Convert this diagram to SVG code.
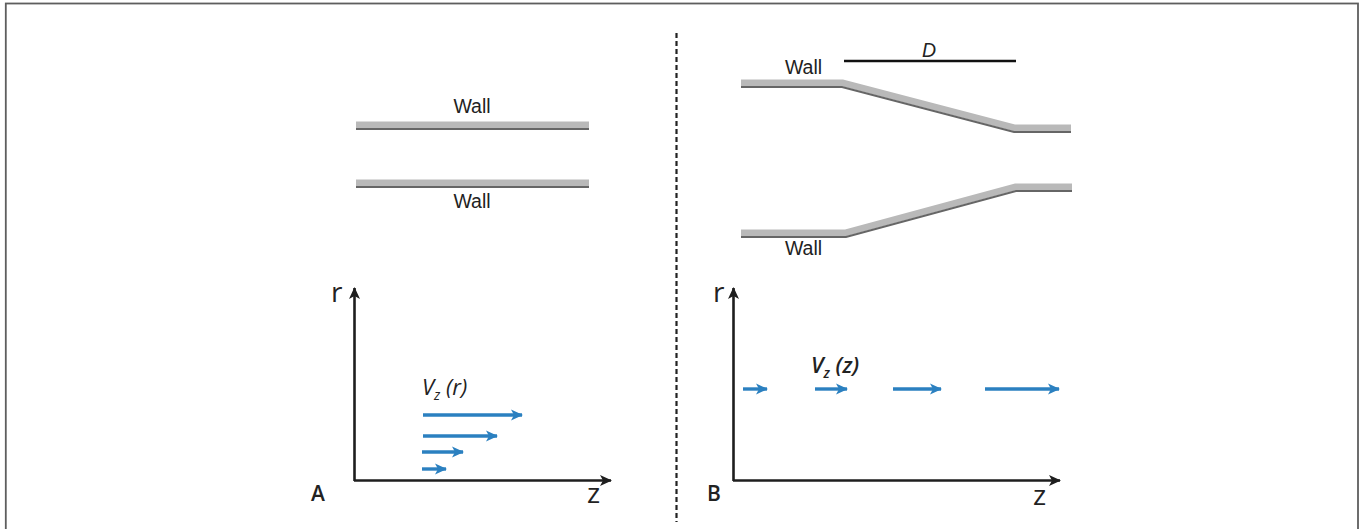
<svg xmlns="http://www.w3.org/2000/svg" width="1363" height="529" viewBox="0 0 1363 529">
<style>
.lbl{font-family:"Liberation Sans",Arial,sans-serif;font-size:19.5px;fill:#222}
.ax{font-family:"Open Sans","Liberation Sans",sans-serif;font-size:28px;fill:#222}
.pan{font-family:"Open Sans","Liberation Sans",sans-serif;font-size:21px;font-weight:600;fill:#222}
.vz{font-family:"Open Sans","Liberation Sans",sans-serif;font-size:22px;font-style:italic;fill:#222}
.wall{fill:#b9b9b9;stroke:none}
.edge{fill:none;stroke:#666;stroke-width:2}
.axis{fill:none;stroke:#1e1e1e;stroke-width:2.6}
.flow{fill:none;stroke:#2b80c0;stroke-width:3.4}
</style>
<defs>
<marker id="ah" markerWidth="14" markerHeight="14" refX="11" refY="7" orient="auto" markerUnits="userSpaceOnUse">
<path d="M0,1.5 L12,7 L0,12.5 L3,7 Z" fill="#1e1e1e"/>
</marker>
<marker id="bh" markerWidth="14" markerHeight="14" refX="11" refY="7" orient="auto" markerUnits="userSpaceOnUse">
<path d="M0,1.5 L12,7 L0,12.5 L3,7 Z" fill="#2b80c0"/>
</marker>
</defs>
<rect x="5.8" y="3.5" width="1352.2" height="540" fill="none" stroke="#5e5e5e" stroke-width="1.8"/>
<line x1="676.5" y1="33" x2="676.5" y2="522" stroke="#222" stroke-width="2.2" stroke-dasharray="5,3"/>

<g id="panelA-walls">
<rect class="wall" x="356" y="121.5" width="233" height="7"/>
<line class="edge" x1="356" y1="129" x2="589" y2="129"/>
<rect class="wall" x="356" y="179.5" width="233" height="7"/>
<line class="edge" x1="356" y1="187" x2="589" y2="187"/>
<text class="lbl" x="472" y="113" text-anchor="middle">Wall</text>
<text class="lbl" x="472" y="208" text-anchor="middle">Wall</text>
</g>

<g id="panelB-walls">
<polygon class="wall" points="741,79.5 843,79.5 1015,124.5 1071,124.5 1071,131.5 1015,131.5 843,86.5 741,86.5"/>
<polyline class="edge" points="741,87 842,87 1014,132 1071,132"/>
<polygon class="wall" points="741,229.5 845,229.5 1015,183.5 1072,183.5 1072,190.5 1015,190.5 845,236.5 741,236.5"/>
<polyline class="edge" points="741,237 846,237 1016,191 1072,191"/>
<line x1="844" y1="61" x2="1016" y2="61" stroke="#111" stroke-width="2.4"/>
<text class="lbl" x="929" y="57" text-anchor="middle" font-style="italic" font-size="18">D</text>
<text class="lbl" x="803.5" y="74" text-anchor="middle">Wall</text>
<text class="lbl" x="803.5" y="255" text-anchor="middle">Wall</text>
</g>

<g id="panelA-plot">
<line class="axis" x1="354.5" y1="481" x2="354.5" y2="288" marker-end="url(#ah)"/>
<line class="axis" x1="354" y1="480.5" x2="611" y2="480.5" marker-end="url(#ah)"/>
<text class="ax" x="331" y="302">r</text>
<text class="ax" x="587" y="503">z</text>
<text class="pan" x="311" y="501">A</text>
<text class="vz" x="422" y="395">V<tspan font-size="14" dy="5">z</tspan><tspan dy="-5"> (r)</tspan></text>
</g>

<g id="panelB-plot">
<line class="axis" x1="733.5" y1="481" x2="733.5" y2="288" marker-end="url(#ah)"/>
<line class="axis" x1="733" y1="480.5" x2="1060" y2="480.5" marker-end="url(#ah)"/>
<text class="ax" x="713" y="302">r</text>
<text class="ax" x="1033" y="505">z</text>
<text class="pan" x="707" y="501">B</text>
<text class="vz" x="811" y="373" font-weight="600">V<tspan font-size="14" dy="5">z</tspan><tspan dy="-5"> (z)</tspan></text>
</g>

<g id="connectors">
<line class="flow" x1="423" y1="415" x2="522" y2="415" marker-end="url(#bh)"/>
<line class="flow" x1="423" y1="436" x2="497" y2="436" marker-end="url(#bh)"/>
<line class="flow" x1="422" y1="452" x2="463" y2="452" marker-end="url(#bh)"/>
<line class="flow" x1="422" y1="469" x2="446" y2="469" marker-end="url(#bh)"/>
<line class="flow" x1="743" y1="389" x2="767" y2="389" marker-end="url(#bh)"/>
<line class="flow" x1="815" y1="389" x2="847" y2="389" marker-end="url(#bh)"/>
<line class="flow" x1="893" y1="389" x2="941" y2="389" marker-end="url(#bh)"/>
<line class="flow" x1="985" y1="389" x2="1059" y2="389" marker-end="url(#bh)"/>
</g>
</svg>
